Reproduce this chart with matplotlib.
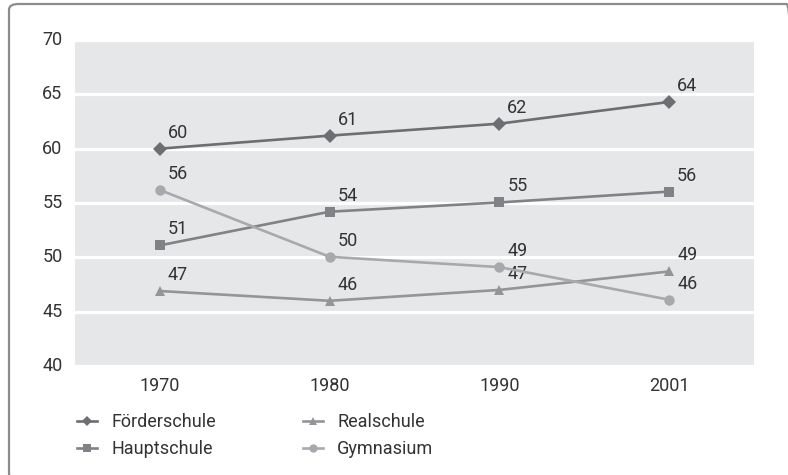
import matplotlib
matplotlib.use("Agg")
import matplotlib.pyplot as plt
from matplotlib.patches import FancyBboxPatch

years = ["1970", "1980", "1990", "2001"]
foerderschule = [60.0, 61.2, 62.3, 64.3]
hauptschule = [51.1, 54.2, 55.05, 56.05]
realschule = [46.9, 46.0, 47.0, 48.7]
gymnasium = [56.2, 50.05, 49.1, 46.1]

labels_foerder = ["60", "61", "62", "64"]
labels_haupt = ["51", "54", "55", "56"]
labels_real = ["47", "46", "47", "49"]
labels_gym = ["56", "50", "49", "46"]

series = [
    ("Förderschule", foerderschule, labels_foerder, "#6d6e71", "D", 7),
    ("Hauptschule", hauptschule, labels_haupt, "#808285", "s", 7.5),
    ("Realschule", realschule, labels_real, "#939598", "^", 7.5),
    ("Gymnasium", gymnasium, labels_gym, "#a7a9ac", "o", 7.5),
]

plt.rcParams['font.family'] = ['Roboto', 'DejaVu Sans']
txt = "#333333"
FS = 13

W, H = 788, 475
fig = plt.figure(figsize=(W / 100, H / 100), dpi=100)

# rounded outer border (right and bottom edges run off the canvas)
border = FancyBboxPatch((9 / W, -4 / H), (W + 8 - 9) / W, (H - 4 + 4) / H,
                        boxstyle="round,pad=0,rounding_size=0.012",
                        transform=fig.transFigure, facecolor="none",
                        edgecolor="#8c8c8c", linewidth=1.6, clip_on=False)
fig.patches.append(border)

ax = fig.add_axes([75 / W, 1 - 366 / H, (754 - 75) / W, (366 - 40) / H])
ax.set_facecolor("#e6e7e8")
x = list(range(len(years)))

handles = []
for name, vals, labs, col, mk, ms in series:
    h, = ax.plot(x, vals, color=col, lw=1.9, marker=mk, markersize=ms,
                 markeredgewidth=0, label=name, zorder=3)
    handles.append(h)
    for xi, v, lab in zip(x, vals, labs):
        ax.annotate(lab, (xi, v), xytext=(8, 16), textcoords="offset pixels",
                    ha="left", va="center", fontsize=FS, color=txt)

ax.set_xlim(-0.5, 3.5)
ax.set_ylim(40, 70)
ax.set_yticks([40, 45, 50, 55, 60, 65, 70])
ax.set_xticks(x)
ax.set_xticklabels(years)
ax.tick_params(axis="both", length=0, labelsize=FS, colors=txt)
ax.tick_params(axis="y", pad=9)
ax.tick_params(axis="x", pad=8)
for lab in ax.get_yticklabels():
    lab.set_verticalalignment("center")
ax.grid(axis="y", color="white", lw=2.3)
ax.grid(axis="x", visible=False)
ax.set_axisbelow(True)
for s in ax.spines.values():
    s.set_visible(False)

leg = fig.legend(handles=handles, ncol=2, loc="upper left",
                 bbox_to_anchor=(70 / W, 1 - 406 / H), frameon=False,
                 fontsize=FS, handlelength=1.1, handletextpad=0.8,
                 columnspacing=4.8, labelspacing=0.5, borderaxespad=0,
                 markerscale=0.8)
for t in leg.get_texts():
    t.set_color(txt)

fig.savefig("out.png", dpi=100)
